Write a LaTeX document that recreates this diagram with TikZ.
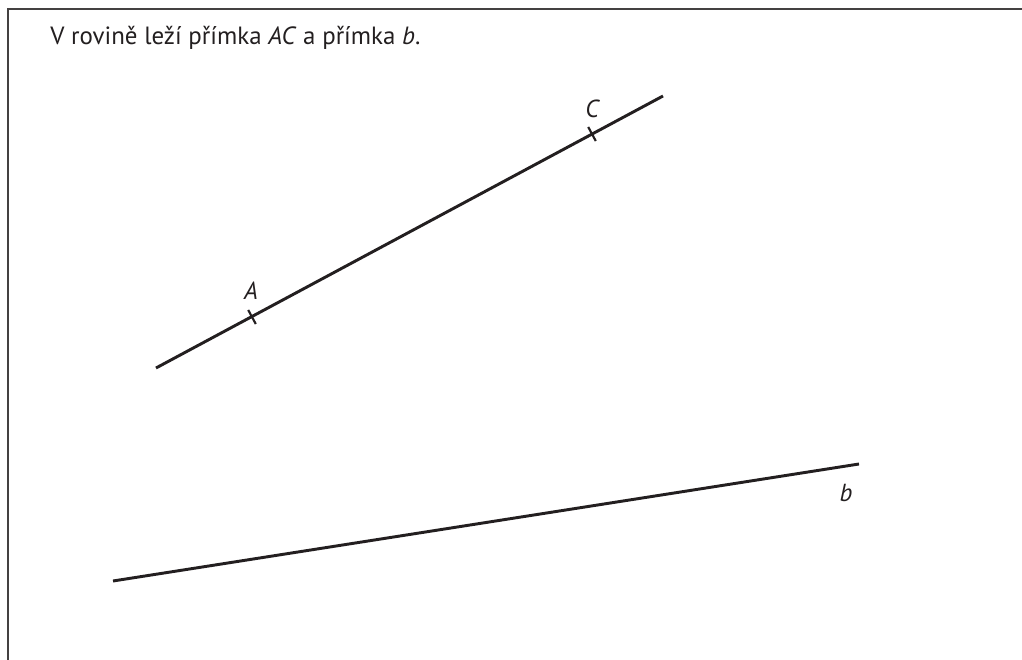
\documentclass[tikz,border=0pt]{standalone}
\usepackage{fontspec}
\setmainfont{PT Sans}
\definecolor{cInk}{HTML}{231F20}
\usetikzlibrary{calc}

\begin{document}
\begin{tikzpicture}[x=0.75pt,y=-0.75pt,
      primka/.style={line width=2.2pt,color=cInk},
      carka/.style={line width=1.6pt,color=cInk},
      bod/.style={font=\fontsize{18.5}{22}\selectfont\itshape,color=cInk,inner sep=0pt},
      zadani/.style={font=\fontsize{18.7}{22}\selectfont,color=cInk,anchor=base west,inner sep=0pt}]
    \useasboundingbox (0,0) rectangle (1022,660);
    % frame, open to the right and below
    \draw[line width=1.8pt,color=cInk!85] (8,660) -- (8,9) -- (1022,9);
    \node[zadani] (zadani) at (50,45) {V rovině leží přímka \textit{AC} a přímka \textit{b}.};
    % line AC with its two points
    \coordinate (ac1) at (156,368);
    \coordinate (ac2) at (663,96);
    \coordinate (A) at (252,317);
    \coordinate (C) at (592,134);
    \draw[primka] (ac1) -- (ac2);
    \foreach \p/\q in {A/C, C/A} {
      \draw[carka] ($(\p)!6pt!90:(\q)$) -- ($(\p)!6pt!-90:(\q)$);
    }
    \node[bod] (labA) at (251,291) {A};
    \node[bod] (labC) at (592,109) {C};
    % line b
    \coordinate (b1) at (113,581);
    \coordinate (b2) at (859,464);
    \draw[primka] (b1) -- (b2);
    \node[bod] (labb) at (846,493) {b};
  \end{tikzpicture}
\end{document}
